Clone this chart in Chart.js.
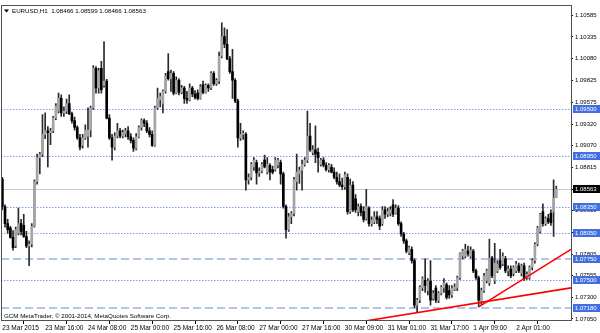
<!DOCTYPE html>
<html>
<head>
<meta charset="utf-8">
<script src="https://cdn.jsdelivr.net/npm/chart.js@4.4.1/dist/chart.umd.min.js"></script>
<style>
  html, body { margin: 0; padding: 0; background: #fff; }
</style>
</head>
<body>
<canvas id="myChart" width="600" height="333"></canvas>
<script>
// EURUSD H1, one entry per hourly bar (23 Mar 2015 00:00 .. 2 Apr 2015 15:00)
const opens = [
  1.0868,1.0836,1.0816,1.0811,1.0800,1.0790,1.0805,1.0816,1.0814,1.0801,
  1.0790,1.0792,1.0813,1.0865,1.0893,1.0897,1.0920,1.0924,1.0922,1.0924,
  1.0939,1.0947,1.0962,1.0945,1.0947,1.0956,1.0944,1.0936,1.0928,1.0916,
  1.0907,1.0916,1.0918,1.0925,1.0951,1.0997,1.0974,1.0997,1.0977,1.0982,
  1.0939,1.0916,1.0905,1.0918,1.0924,1.0918,1.0921,1.0924,1.0917,1.0913,
  1.0904,1.0917,1.0928,1.0936,1.0933,1.0924,1.0920,1.0907,1.0951,1.0960,
  1.0956,1.0970,1.0993,1.0985,1.0991,1.0968,1.0983,1.0969,1.0974,1.0962,
  1.0960,1.0974,1.0967,1.0968,1.0962,1.0978,1.0969,1.0977,1.0974,1.0991,
  1.0979,1.0982,1.1011,1.1034,1.1025,1.1008,1.0993,1.0983,1.0959,1.0916,
  1.0920,1.0920,1.0867,1.0870,1.0882,1.0887,1.0875,1.0877,1.0890,1.0876,
  1.0884,1.0879,1.0879,1.0884,1.0887,1.0874,1.0836,1.0809,1.0824,1.0828,
  1.0865,1.0874,1.0878,1.0885,1.0890,1.0918,1.0899,1.0902,1.0899,1.0885,
  1.0890,1.0884,1.0879,1.0882,1.0876,1.0870,1.0865,1.0861,1.0859,1.0870,
  1.0830,1.0861,1.0845,1.0830,1.0836,1.0830,1.0822,1.0834,1.0816,1.0818,
  1.0824,1.0822,1.0816,1.0832,1.0827,1.0828,1.0838,1.0828,1.0834,1.0816,
  1.0804,1.0796,1.0782,1.0786,1.0773,1.0721,1.0727,1.0741,1.0750,1.0738,
  1.0749,1.0729,1.0741,1.0727,1.0735,1.0741,1.0745,1.0738,1.0733,1.0739,
  1.0741,1.0753,1.0778,1.0778,1.0784,1.0778,1.0784,1.0761,1.0753,1.0724,
  1.0738,1.0750,1.0747,1.0776,1.0750,1.0761,1.0773,1.0769,1.0775,1.0761,
  1.0763,1.0758,1.0761,1.0767,1.0758,1.0767,1.0753,1.0753,1.0765,1.0773,
  1.0792,1.0807,1.0830,1.0816,1.0822,1.0828,1.0830,1.08466
]
const highs = [
  1.0870,1.0838,1.0821,1.0813,1.0808,1.0812,1.0834,1.0821,1.0827,1.0807,
  1.0796,1.0816,1.0867,1.0897,1.0899,1.0943,1.0945,1.0929,1.0927,1.0941,
  1.0956,1.0968,1.0966,1.0952,1.0961,1.0966,1.0946,1.0940,1.0930,1.0920,
  1.0920,1.0931,1.0951,1.0953,1.1000,1.0999,1.0997,1.1005,1.1028,1.0984,
  1.0943,1.0920,1.0922,1.0933,1.0927,1.0925,1.0927,1.0929,1.0921,1.0916,
  1.0921,1.0930,1.0938,1.0938,1.0936,1.0928,1.0924,1.0953,1.0974,1.0968,
  1.0972,1.0991,1.1014,1.0995,1.0993,1.0987,1.0985,1.0977,1.0976,1.0970,
  1.0979,1.0976,1.0971,1.0972,1.0978,1.0982,1.0979,1.0979,1.0993,1.0993,
  1.0985,1.1016,1.1050,1.1044,1.1042,1.1011,1.1019,1.0985,1.0961,1.0933,
  1.0924,1.0922,1.0874,1.0887,1.0893,1.0890,1.0881,1.0887,1.0896,1.0893,
  1.0886,1.0883,1.0893,1.0892,1.0890,1.0876,1.0838,1.0828,1.0830,1.0870,
  1.0897,1.0882,1.0890,1.0893,1.0947,1.0933,1.0907,1.0930,1.0904,1.0892,
  1.0893,1.0887,1.0886,1.0885,1.0881,1.0876,1.0874,1.0869,1.0876,1.0874,
  1.0868,1.0865,1.0850,1.0839,1.0839,1.0836,1.0856,1.0836,1.0824,1.0830,
  1.0830,1.0825,1.0836,1.0836,1.0834,1.0836,1.0844,1.0838,1.0837,1.0818,
  1.0806,1.0798,1.0790,1.0789,1.0775,1.0729,1.0744,1.0754,1.0775,1.0752,
  1.0773,1.0738,1.0744,1.0737,1.0744,1.0752,1.0747,1.0744,1.0744,1.0746,
  1.0755,1.0782,1.0786,1.0792,1.0790,1.0789,1.0786,1.0763,1.0755,1.0741,
  1.0758,1.0763,1.0798,1.0778,1.0793,1.0773,1.0786,1.0782,1.0778,1.0767,
  1.0767,1.0767,1.0772,1.0770,1.0769,1.0770,1.0760,1.0767,1.0775,1.0794,
  1.0813,1.0828,1.0839,1.0824,1.0827,1.0832,1.0867,1.08599
]
const lows = [
  1.0832,1.0812,1.0805,1.0799,1.0785,1.0788,1.0803,1.0803,1.0800,1.0788,
  1.0767,1.0789,1.0812,1.0862,1.0874,1.0894,1.0915,1.0882,1.0908,1.0922,
  1.0937,1.0945,1.0941,1.0941,1.0944,1.0943,1.0933,1.0925,1.0914,1.0902,
  1.0904,1.0914,1.0905,1.0917,1.0949,1.0968,1.0968,1.0968,1.0975,1.0938,
  1.0914,1.0890,1.0902,1.0916,1.0916,1.0916,1.0917,1.0914,1.0910,1.0900,
  1.0902,1.0916,1.0925,1.0929,1.0922,1.0917,1.0906,1.0906,1.0949,1.0952,
  1.0945,1.0968,1.0983,1.0970,1.0966,1.0967,1.0966,1.0967,1.0956,1.0956,
  1.0959,1.0964,1.0961,1.0960,1.0961,1.0967,1.0968,1.0970,1.0972,1.0977,
  1.0977,1.0979,1.1009,1.1021,1.1007,1.0991,1.0962,1.0957,1.0905,1.0913,
  1.0914,1.0855,1.0862,1.0867,1.0878,1.0862,1.0871,1.0875,1.0881,1.0874,
  1.0867,1.0874,1.0877,1.0881,1.0862,1.0834,1.0799,1.0807,1.0816,1.0825,
  1.0855,1.0863,1.0855,1.0883,1.0887,1.0900,1.0896,1.0887,1.0876,1.0883,
  1.0882,1.0877,1.0876,1.0875,1.0868,1.0862,1.0859,1.0856,1.0856,1.0827,
  1.0828,1.0830,1.0829,1.0825,1.0825,1.0818,1.0820,1.0813,1.0813,1.0816,
  1.0816,1.0809,1.0814,1.0822,1.0824,1.0825,1.0824,1.0827,1.0814,1.0801,
  1.0793,1.0782,1.0780,1.0770,1.0718,1.0713,1.0724,1.0738,1.0736,1.0733,
  1.0721,1.0727,1.0724,1.0724,1.0733,1.0736,1.0728,1.0729,1.0730,1.0738,
  1.0738,1.0751,1.0775,1.0776,1.0778,1.0776,1.0759,1.0751,1.0719,1.0722,
  1.0736,1.0747,1.0744,1.0753,1.0746,1.0759,1.0763,1.0767,1.0759,1.0755,
  1.0753,1.0755,1.0759,1.0759,1.0755,1.0750,1.0751,1.0751,1.0762,1.0770,
  1.0790,1.0805,1.0813,1.0814,1.0816,1.0814,1.0801,1.08466
]
const closes = [
  1.0836,1.0816,1.0809,1.0800,1.0788,1.0809,1.0816,1.0807,1.0801,1.0790,
  1.0792,1.0813,1.0865,1.0893,1.0897,1.0920,1.0924,1.0922,1.0924,1.0939,
  1.0953,1.0962,1.0945,1.0947,1.0956,1.0944,1.0936,1.0928,1.0916,1.0905,
  1.0916,1.0925,1.0925,1.0951,1.0997,1.0974,1.0994,1.0972,1.0982,1.0939,
  1.0916,1.0905,1.0918,1.0924,1.0918,1.0922,1.0924,1.0917,1.0913,1.0904,
  1.0917,1.0928,1.0936,1.0933,1.0924,1.0920,1.0907,1.0951,1.0962,1.0964,
  1.0970,1.0988,1.0985,1.0991,1.0968,1.0983,1.0969,1.0974,1.0962,1.0960,
  1.0974,1.0967,1.0963,1.0962,1.0975,1.0969,1.0977,1.0974,1.0991,1.0979,
  1.0983,1.1011,1.1034,1.1025,1.1008,1.0993,1.0983,1.0959,1.0916,1.0920,
  1.0921,1.0867,1.0870,1.0885,1.0890,1.0875,1.0877,1.0885,1.0882,1.0885,
  1.0876,1.0876,1.0890,1.0890,1.0874,1.0836,1.0809,1.0824,1.0828,1.0867,
  1.0876,1.0878,1.0885,1.0890,1.0918,1.0902,1.0902,1.0897,1.0893,1.0890,
  1.0884,1.0879,1.0884,1.0876,1.0870,1.0865,1.0861,1.0859,1.0873,1.0830,
  1.0861,1.0832,1.0832,1.0836,1.0829,1.0821,1.0836,1.0816,1.0820,1.0824,
  1.0821,1.0813,1.0832,1.0827,1.0830,1.0832,1.0827,1.0834,1.0816,1.0804,
  1.0796,1.0784,1.0788,1.0773,1.0721,1.0727,1.0742,1.0752,1.0744,1.0749,
  1.0727,1.0735,1.0727,1.0735,1.0742,1.0747,1.0730,1.0733,1.0741,1.0742,
  1.0753,1.0781,1.0784,1.0786,1.0781,1.0785,1.0761,1.0753,1.0727,1.0738,
  1.0755,1.0761,1.0776,1.0755,1.0770,1.0769,1.0765,1.0778,1.0761,1.0763,
  1.0755,1.0765,1.0769,1.0761,1.0767,1.0752,1.0757,1.0765,1.0773,1.0792,
  1.0811,1.0827,1.0816,1.0822,1.0818,1.0817,1.0846,1.08563
]

// x axis: bar index of each time label
const xTickBars = [0, 16, 32, 48, 64, 80, 96, 112, 128, 144, 160, 176, 192]
const xTickLabels = ['23 Mar 2015', '23 Mar 16:00', '24 Mar 08:00', '25 Mar 00:00', '25 Mar 16:00',
  '26 Mar 08:00', '27 Mar 00:00', '27 Mar 16:00', '30 Mar 09:00', '31 Mar 01:00',
  '31 Mar 17:00', '1 Apr 09:00', '2 Apr 01:00']
const yTicks = [1.10585, 1.10335, 1.10080, 1.09825, 1.09575, 1.09320, 1.09070, 1.08815,
  1.08560, 1.08310, 1.08055, 1.07805, 1.07555, 1.07300, 1.07050]

// horizontal levels and trend lines ([bar, price] anchors)
const dottedLevels = [1.09500, 1.08950, 1.08350, 1.08050, 1.07500]
const dashedLevels = [1.07750, 1.07180]
const bidPrice = 1.08563
const trendA = [[140, 1.07048], [213, 1.07415]]
const trendB = [[178, 1.07190], [213, 1.07870]]

const FONT = '"Liberation Sans", Arial, sans-serif'

const wickData = opens.map((o, i) => ({x: i, y: [lows[i], highs[i]]}))
const bodyData = opens.map((o, i) => ({x: i, y: [o, closes[i]]}))
const bodyColors = opens.map((o, i) => closes[i] >= o ? '#a4a4a4' : '#000000')

function hline(ctx, a, y) {
  ctx.beginPath()
  ctx.moveTo(a.left, y)
  ctx.lineTo(a.right, y)
  ctx.stroke()
}

function priceBox(ctx, a, y, value, bg) {
  ctx.fillStyle = bg
  ctx.fillRect(a.right + 2, Math.round(y) - 4, 29, 8)
  ctx.fillStyle = '#fff'
  ctx.font = '6px ' + FONT
  ctx.textAlign = 'left'
  ctx.textBaseline = 'middle'
  ctx.fillText(value.toFixed(5), a.right + 4, Math.round(y))
}

const mt4Plugin = {
  id: 'mt4',
  beforeDatasetsDraw(chart) {
    const {ctx, chartArea: a, scales: {y}} = chart
    ctx.save()
    ctx.strokeStyle = '#c8c8c8'
    ctx.lineWidth = 1
    hline(ctx, a, Math.round(y.getPixelForValue(bidPrice)) + 0.5)

    ctx.strokeStyle = '#7f9ef2'
    ctx.setLineDash([1.5, 1.5])
    dottedLevels.forEach(v => hline(ctx, a, Math.round(y.getPixelForValue(v)) + 0.5))

    ctx.strokeStyle = '#b3c4f2'
    ctx.lineWidth = 2
    ctx.setLineDash([8, 4])
    dashedLevels.forEach(v => hline(ctx, a, Math.round(y.getPixelForValue(v))))
    ctx.restore()
  },
  afterDatasetsDraw(chart) {
    const {ctx, chartArea: a, scales: {x, y}} = chart
    ctx.save()
    ctx.beginPath()
    ctx.rect(a.left, a.top, a.right - a.left, a.bottom - a.top)
    ctx.clip()
    ctx.strokeStyle = '#ff0000'
    ctx.lineWidth = 1.6
    const draw = (t, extendLeft) => {
      const x1 = x.getPixelForValue(t[0][0]), y1 = y.getPixelForValue(t[0][1])
      const x2 = x.getPixelForValue(t[1][0]), y2 = y.getPixelForValue(t[1][1])
      const k = (y2 - y1) / (x2 - x1)
      const xs = extendLeft ? a.left : x1
      ctx.beginPath()
      ctx.moveTo(xs, y1 + k * (xs - x1))
      ctx.lineTo(a.right, y1 + k * (a.right - x1))
      ctx.stroke()
    }
    draw(trendA, true)
    draw(trendB, false)
    ctx.restore()
  },
  afterDraw(chart) {
    const {ctx, chartArea: a, scales: {y}} = chart
    ctx.save()
    // frame
    ctx.strokeStyle = '#505050'
    ctx.lineWidth = 1
    ctx.strokeRect(Math.floor(a.left) + 0.5, Math.floor(a.top) + 0.5,
      Math.round(a.right - a.left), Math.round(a.bottom - a.top))

    // header
    ctx.fillStyle = '#000'
    ctx.beginPath()
    ctx.moveTo(a.left + 3, a.top + 4)
    ctx.lineTo(a.left + 8, a.top + 4)
    ctx.lineTo(a.left + 5.5, a.top + 7)
    ctx.closePath()
    ctx.fill()
    ctx.font = '6.2px ' + FONT
    ctx.textAlign = 'left'
    ctx.textBaseline = 'middle'
    ctx.fillText('EURUSD,H1  ' + [opens, highs, lows, closes].map(s => s[s.length - 1].toFixed(5)).join(' '),
      a.left + 11, a.top + 5.5)
    ctx.fillText('GCM MetaTrader, \u00a9 2001-2014, MetaQuotes Software Corp.', a.left + 3, a.bottom - 4.5)

    dottedLevels.concat(dashedLevels).forEach(v => priceBox(ctx, a, y.getPixelForValue(v), v, '#3f6fe0'))
    priceBox(ctx, a, y.getPixelForValue(bidPrice), bidPrice, '#000')
    ctx.restore()
  }
}

const ctx = document.getElementById('myChart').getContext('2d')
const myChart = new Chart(ctx, {
  type: 'bar',
  data: {
    datasets: [{
      label: 'body',
      data: bodyData,
      backgroundColor: bodyColors,
      borderWidth: 0,
      barThickness: 2,
      minBarLength: 1,
      grouped: false
    }, {
      label: 'wick',
      data: wickData,
      backgroundColor: '#2a2a2a',
      borderWidth: 0,
      barThickness: 1,
      grouped: false
    }]
  },
  options: {
    responsive: false,
    animation: false,
    devicePixelRatio: 1,
    layout: {padding: {left: 1, top: 1, right: 0, bottom: 0}},
    plugins: {legend: {display: false}, tooltip: {enabled: false}},
    scales: {
      x: {
        type: 'linear',
        offset: false,
        min: -0.5,
        max: 212.5,
        afterFit: s => { s.height = 12 },
        afterBuildTicks: s => { s.ticks = xTickBars.map(v => ({value: v})) },
        grid: {drawOnChartArea: false, drawTicks: true, tickLength: 3, color: '#000'},
        border: {display: false},
        ticks: {
          autoSkip: false,
          maxRotation: 0,
          align: 'start',
          padding: 0,
          color: '#000',
          font: {family: FONT, size: 6.5},
          callback: v => xTickLabels[xTickBars.indexOf(v)]
        }
      },
      y: {
        position: 'right',
        min: 1.07026,
        max: 1.10700,
        afterFit: s => { s.width = 29 },
        afterBuildTicks: s => { s.ticks = yTicks.map(v => ({value: v})) },
        grid: {drawOnChartArea: false, drawTicks: true, tickLength: 2, color: '#000'},
        border: {display: false},
        ticks: {
          padding: 2,
          color: '#000',
          font: {family: FONT, size: 6},
          callback: v => v.toFixed(5)
        }
      }
    }
  },
  plugins: [mt4Plugin]
})
</script>
</body>
</html>
